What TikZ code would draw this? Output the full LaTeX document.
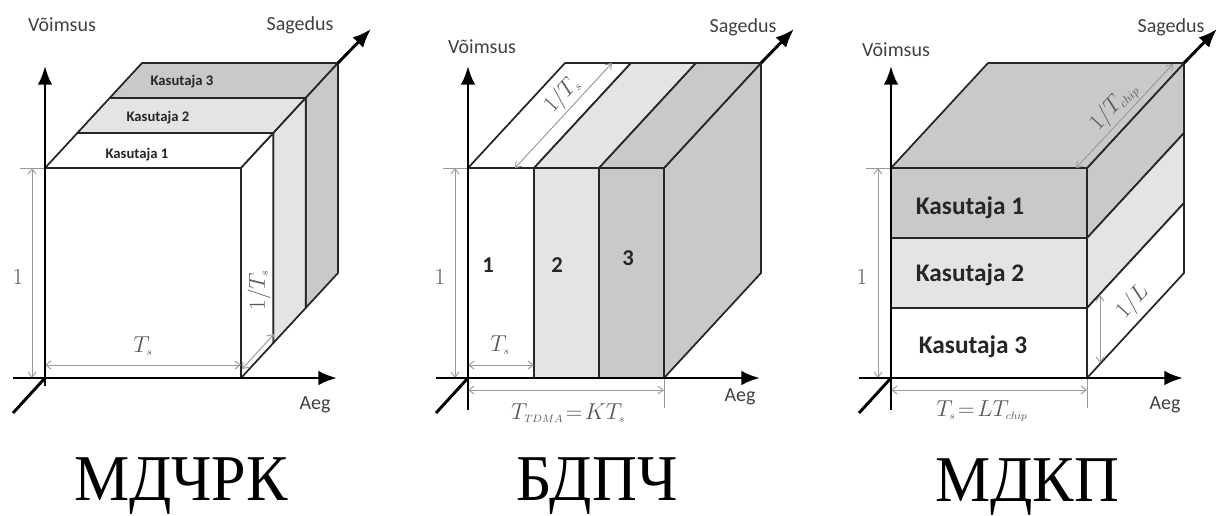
\documentclass[tikz,border=0pt]{standalone}
\usepackage{fontspec}
\usepackage{graphicx}
\usetikzlibrary{arrows.meta}
\newfontfamily\lblfont{Carlito}
\newfontfamily\capfont{Liberation Serif}
\definecolor{lgray}{HTML}{E4E4E4}
\definecolor{mgray}{HTML}{C9C9C9}
\newcommand{\sub}[1]{_{\scriptscriptstyle #1}}
\tikzset{
  box/.style={draw=black!85,line width=1.3pt,line join=round},
  axis/.style={line width=2.2pt,-{Latex[length=14pt,width=11pt]}},
  dimline/.style={draw=black!40,line width=0.7pt,{Straight Barb[length=4pt,width=6pt]}-{Straight Barb[length=4pt,width=6pt]}},
  extline/.style={draw=black!40,line width=0.7pt},
  axlabel/.style={font=\lblfont\fontsize{15}{17}\selectfont,text=black!75},
  dimlabel/.style={font=\fontsize{17}{19}\selectfont,text=black!65},
  slantlabel/.style={font=\fontsize{18}{20}\selectfont,text=black!65,inner sep=2pt},
  userlabel/.style={font=\lblfont\bfseries\fontsize{#1}{#1}\selectfont,text=black!85},
  caption/.style={font=\capfont\fontsize{49}{49}\selectfont,anchor=base,inner sep=0pt}
}
\begin{document}
\begin{tikzpicture}[x=0.75pt,y=-0.75pt]
  \useasboundingbox (0,0) rectangle (1216,515);
  % first cube: three layers in depth
  \begin{scope}[shift={(45,378)}]
    \foreach \k/\c in {2/mgray,1/lgray,0/white}{
      \begin{scope}[shift={(\k*32.33,-\k*35)}]
        \filldraw[box,fill=\c] (0,-210) -- (196,-210) -- (228.33,-245) -- (32.33,-245) -- cycle;
        \filldraw[box,fill=\c] (196,-210) -- (228.33,-245) -- (228.33,-35) -- (196,0) -- cycle;
      \end{scope}
    }
    \filldraw[box,fill=white] (0,0) rectangle (196,-210);
    \foreach \i/\x/\y in {1/92/223,2/113/260,3/137/296}
      \node[userlabel=11] (ka\i) at (\x,-\y) {Kasutaja \i};
    \draw[extline] (-25,-210) -- (0,-210);
    \draw[dimline] (-13,-210) -- (-13,0);
    \node[dimlabel] (one1) at (-27,-101) {$1$};
    \draw[dimline] (0,-13) -- (196,-13);
    \node[dimlabel] (ts1) at (98,-32) {$T\sub{s}$};
    \draw[dimline] (197,-9) -- (229,-44);
    \node[slantlabel,rotate=90] (inv1) at (214,-88) {$1/T\sub{s}$};
  \end{scope}
  % second cube: three slices in time
  \begin{scope}[shift={(468,378)}]
    \filldraw[box,fill=mgray] (196,0) -- (196,-210) -- (293,-315) -- (293,-105) -- cycle;
    \foreach \a/\b/\c in {0/66/white,66/131/lgray,131/196/mgray}{
      \filldraw[box,fill=\c] (\a,-210) -- (\b,-210) -- (\b+97,-315) -- (\a+97,-315) -- cycle;
      \filldraw[box,fill=\c] (\a,0) rectangle (\b,-210);
    }
    \foreach \i/\x/\y in {1/20/113,2/89/113,3/160/120}
      \node[userlabel=17] (sl\i) at (\x,-\y) {\i};
    \draw[extline] (-25,-210) -- (0,-210);
    \draw[dimline] (-13,-210) -- (-13,0);
    \node[dimlabel] (one2) at (-28,-101) {$1$};
    \draw[dimline] (0,-13) -- (66,-13);
    \node[dimlabel] (ts2) at (32,-33) {$T\sub{s}$};
    \draw[extline] (196,0) -- (196,30);
    \draw[dimline] (0,12) -- (196,12);
    \node[dimlabel] (tdma) at (100,35) {$T\sub{TDMA}\!=\!KT\sub{s}$};
    \draw[dimline] (47,-210) -- node[slantlabel,sloped,above,pos=0.6] (inv2) {$1/T\sub{s}$} (144,-315);
  \end{scope}
  % third cube: three layers in power
  \begin{scope}[shift={(891,378)}]
    \foreach \t/\c in {-210/mgray,-140/lgray,-70/white}{
      \filldraw[box,fill=\c] (196,\t) -- (293,\t-105) -- (293,\t-35) -- (196,\t+70) -- cycle;
      \filldraw[box,fill=\c] (0,\t) rectangle (196,\t+70);
    }
    \filldraw[box,fill=mgray] (0,-210) -- (196,-210) -- (293,-315) -- (97,-315) -- cycle;
    \foreach \i/\x/\y in {1/79/170,2/79/103,3/82/31}
      \node[userlabel=19] (ku\i) at (\x,-\y) {Kasutaja \i};
    \draw[extline] (-25,-210) -- (0,-210);
    \draw[dimline] (-13,-210) -- (-13,0);
    \node[dimlabel] (one3) at (-29,-101) {$1$};
    \draw[extline] (196,0) -- (196,30);
    \draw[dimline] (0,12) -- (196,12);
    \node[dimlabel] (chip) at (91,33) {$T\sub{s}\!=\!LT\sub{chip}$};
    \draw[dimline] (209,-83) -- (209,-15);
    \node[slantlabel,rotate=47.3] (invl) at (242,-76) {$1/L$};
    \draw[dimline] (185,-210) -- node[slantlabel,sloped,above,pos=0.5] (invc) {$1/T\sub{chip}$} (282,-314);
  \end{scope}
  % axes of all three cubes
  \foreach \i/\ox/\dn/\vx/\vy/\sx/\sy/\ay in {1/45/8/17/353/255/353/27,2/468/32/14/331/275/351/19,3/891/32/5/328/280/351/27}{
    \begin{scope}[shift={(\ox,378)}]
      \draw[line width=2.2pt] (0,\dn) -- (0,0);
      \draw[axis] (0,0) -- (0,-312);
      \draw[axis] (-32,0) -- (292,0);
      \draw[line width=2.2pt] (-32,35) -- (0,0);
      \draw[axis] (293,-315) -- (326,-349);
      \node[axlabel] (pw\i) at (\vx,-\vy) {Võimsus};
      \node[axlabel] (fq\i) at (\sx,-\sy) {Sagedus};
      \node[axlabel] (tm\i) at (268+\i*2,\ay) {Aeg};
    \end{scope}
  }
  \node[caption] (cap1) at (181,500) {\scalebox{0.95}[1]{МДЧРК}};
  \node[caption] (cap2) at (597,500) {\scalebox{0.95}[1]{БДПЧ}};
  \node[caption] (cap3) at (1027,501) {\scalebox{0.95}[1]{МДКП}};
\end{tikzpicture}
\end{document}
